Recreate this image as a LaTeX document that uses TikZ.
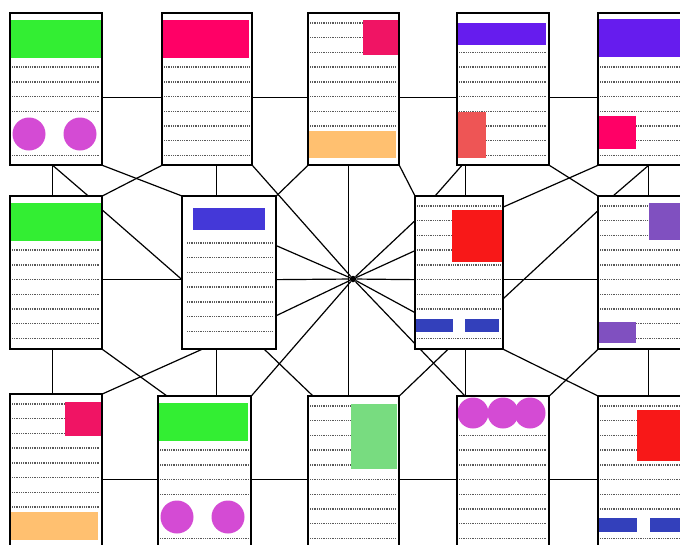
\documentclass[tikz,border=0pt]{standalone}
\usepackage{tikz}
\usetikzlibrary{calc,backgrounds}
\definecolor{BannerGreen}{RGB}{51,238,51}
\definecolor{HotPink}{RGB}{255,0,102}
\definecolor{RosePink}{RGB}{240,20,100}
\definecolor{Apricot}{RGB}{255,192,112}
\definecolor{Violet}{RGB}{102,28,238}
\definecolor{Coral}{RGB}{238,85,85}
\definecolor{Indigo}{RGB}{68,56,216}
\definecolor{Scarlet}{RGB}{248,24,24}
\definecolor{BarBlue}{RGB}{51,64,187}
\definecolor{Lavender}{RGB}{128,80,192}
\definecolor{Orchid}{RGB}{212,75,212}
\definecolor{Mint}{RGB}{120,220,128}
\tikzset{
	docpage/.style={draw=black,fill=white,line width=1.3pt,inner sep=0pt,
		minimum height=152pt,anchor=north west},
	pageframe/.style={draw=black,line width=1.3pt},
	link/.style={draw=black,line width=1.2pt},
	textrow/.style={draw=black!65,line width=1.4pt,dash pattern=on 1pt off 0.8pt},
	hubdot/.style={circle,fill=black,inner sep=2.3pt},
}
% dotted text lines of a page: [top offset]{page}{rows}{left inset}{right inset}
\newcommand{\textrows}[5][10]{%
	\foreach \k in {#3}
		\draw[textrow] ($(#2.north west)+(#4,#1+14.7*\k)$) -- ($(#2.north east)+(-#5,#1+14.7*\k)$);%
}

\begin{document}
\begin{tikzpicture}[x=1pt,y=-1pt]
	\useasboundingbox (0,0) rectangle (680,544);
	\clip (0,0) rectangle (680,544);
	% pages
	\node[docpage,minimum width=91pt,minimum height=151pt] (p1) at (10,13) {};
	\node[docpage,minimum width=89pt,minimum height=151pt] (p2) at (162,13) {};
	\node[docpage,minimum width=90pt,minimum height=151pt] (p3) at (308,13) {};
	\node[docpage,minimum width=91pt,minimum height=151pt] (p4) at (457,13) {};
	\node[docpage,minimum width=92pt,minimum height=151pt] (p5) at (598,13) {};
	\node[docpage,minimum width=91pt] (p6) at (10,196) {};
	\node[docpage,minimum width=93pt] (p7) at (182,196) {};
	\node[docpage,minimum width=87pt] (p8) at (415,196) {};
	\node[docpage,minimum width=92pt] (p9) at (598,196) {};
	\node[docpage,minimum width=91pt] (p10) at (10,394) {};
	\node[docpage,minimum width=92pt] (p11) at (158,396) {};
	\node[docpage,minimum width=90pt] (p12) at (308,396) {};
	\node[docpage,minimum width=91pt] (p13) at (457,396) {};
	\node[docpage,minimum width=92pt] (p14) at (598,396) {};
	\node[hubdot] (hub) at (353,279) {};

	\begin{scope}[on background layer]
		% row links
		\draw[link] ([yshift=-8pt]p1.east) -- ([yshift=-8pt]p2.west);
		\draw[link] ([yshift=-8pt]p2.east) -- ([yshift=-8pt]p3.west);
		\draw[link] ([yshift=-8pt]p3.east) -- ([yshift=-8pt]p4.west);
		\draw[link] ([yshift=-8pt]p4.east) -- ([yshift=-8pt]p5.west);
		\draw[link] ([yshift=-7pt]p6.east) -- ([yshift=-7pt]p7.west);
		\draw[link] ([yshift=-7pt]p7.east) -- (hub) -- ([yshift=-7pt]p8.west);
		\draw[link] ([yshift=-7pt]p8.east) -- ([yshift=-7pt]p9.west);
		\draw[link] ([yshift=-9pt]p10.east) -- ([yshift=-7pt]p11.west);
		\draw[link] ([yshift=-7pt]p11.east) -- ([yshift=-7pt]p12.west);
		\draw[link] ([yshift=-7pt]p12.east) -- ([yshift=-7pt]p13.west);
		\draw[link] ([yshift=-7pt]p13.east) -- ([yshift=-7pt]p14.west);
		% column links
		\draw[link] ([xshift=-3.5pt]p1.south) -- ([xshift=-3.5pt]p6.north);
		\draw[link] ([xshift=9.5pt]p2.south) -- ([xshift=-12.5pt]p7.north);
		\draw[link] ([xshift=-5pt]p3.south) -- ([xshift=-5pt]p12.north);
		\draw[link] ([xshift=-37.5pt]p4.south) -- ([xshift=6.5pt]p8.north);
		\draw[link] ([xshift=4pt]p5.south) -- ([xshift=4pt]p9.north);
		\draw[link] ([xshift=-3.5pt]p6.south) -- ([xshift=-3.5pt]p10.north);
		\draw[link] ([xshift=-12.5pt]p7.south) -- ([xshift=12pt]p11.north);
		\draw[link] ([xshift=6.5pt]p8.south) -- ([xshift=-37.5pt]p13.north);
		\draw[link] ([xshift=4pt]p9.south) -- ([xshift=4pt]p14.north);
		% cross links
		\draw[link] ([xshift=-3.5pt]p1.south) -- ([xshift=-14pt]p6.north east);
		\draw[link] (p1.south east) -- (p7.north west);
		\draw[link] (p2.south west) -- (p6.north east);
		\draw[link] (p2.south east) -- (hub) -- ([xshift=8pt]p13.north west);
		\draw[link] (p3.south west) -- (p7.north east);
		\draw[link] (p3.south east) -- (p8.north west);
		\draw[link] ([xshift=5pt]p4.south west) -- ([xshift=20pt]p8.north west);
		\draw[link] (p4.south east) -- (p9.north west);
		\draw[link] (p5.south west) -- ([yshift=-11pt]p8.north east);
		\draw[link] ([xshift=4pt]p5.south) -- ([xshift=15pt]p9.north west);
		\draw[link] ([yshift=-14pt]p6.north east) -- ([yshift=-7pt]p7.west);
		\draw[link] ([yshift=27pt]p7.east) -- (hub) -- ([yshift=-40pt]p8.west);
		\draw[link] ([yshift=-43pt]p7.east) -- (hub) -- ([yshift=22pt]p8.west);
		\draw[link] (p11.north east) -- (hub) -- ([yshift=52pt]p8.west);
		\draw[link] ([yshift=-26pt]p8.east) -- ([yshift=62pt]p9.west);
		\draw[link] (p6.south east) -- ([xshift=9pt]p11.north west);
		\draw[link] ([xshift=20pt]p7.south west) -- (p10.north east);
		\draw[link] ([xshift=-12pt]p7.south east) -- ([xshift=5pt]p12.north west);
		\draw[link] ([xshift=33pt]p8.south west) -- (p12.north east);
		\draw[link] (p8.south east) -- (p14.north west);
		\draw[link] (p9.south west) -- (p13.north east);
	\end{scope}

	% page contents
	\textrows{p1}{3,4,5,6,9}{2}{3}
	\fill[BannerGreen] ($(p1.north west)+(1,7)$) rectangle ++(90,38);
	\fill[Orchid] ($(p1.north west)+(19,121)$) circle (16.5pt);
	\fill[Orchid] ($(p1.north west)+(70,121)$) circle (16.5pt);

	\textrows{p2}{3,...,9}{2}{3}
	\fill[HotPink] ($(p2.north west)+(1,7)$) rectangle ++(86,38);

	\textrows{p3}{0,...,7}{2}{3}
	\fill[RosePink] ($(p3.north west)+(55,7)$) rectangle ++(35,35);
	\fill[Apricot] ($(p3.north west)+(1,118)$) rectangle ++(87,27);

	\textrows{p4}{2,...,9}{2}{3}
	\fill[Violet] ($(p4.north west)+(1,10)$) rectangle ++(88,22);
	\fill[Coral] ($(p4.north west)+(1,99)$) rectangle ++(28,46);

	\textrows{p5}{3,...,9}{2}{3}
	\fill[Violet] ($(p5.north west)+(1,6)$) rectangle ++(91,38);
	\fill[HotPink] ($(p5.north west)+(1,103)$) rectangle ++(37,33);

	\textrows{p6}{3,...,9}{2}{3}
	\fill[BannerGreen] ($(p6.north west)+(1,7)$) rectangle ++(90,38);

	\textrows[47]{p7}{0,...,6}{5}{4}
	\fill[Indigo] ($(p7.north west)+(11,12)$) rectangle ++(72,22);

	\textrows{p8}{0,1,2,3,4,5,6,7,9}{2}{3}
	\fill[Scarlet] ($(p8.north west)+(37,14)$) rectangle ++(50,52);
	\fill[BarBlue] ($(p8.north west)+(1,123)$) rectangle ++(37,13);
	\fill[BarBlue] ($(p8.north west)+(50,123)$) rectangle ++(34,13);

	\textrows{p9}{0,...,9}{2}{3}
	\fill[Lavender] ($(p9.north west)+(51,7)$) rectangle ++(41,37);
	\fill[Lavender] ($(p9.north west)+(1,126)$) rectangle ++(37,21);

	\textrows{p10}{0,...,7}{2}{3}
	\fill[RosePink] ($(p10.north west)+(55,8)$) rectangle ++(36,34);
	\fill[Apricot] ($(p10.north west)+(1,118)$) rectangle ++(87,28);

	\textrows{p11}{3,4,5,6,9}{2}{3}
	\fill[BannerGreen] ($(p11.north west)+(1,7)$) rectangle ++(89,38);
	\fill[Orchid] ($(p11.north west)+(19,121)$) circle (16.5pt);
	\fill[Orchid] ($(p11.north west)+(70,121)$) circle (16.5pt);

	\textrows{p12}{0,...,9}{2}{3}
	\fill[Mint] ($(p12.north west)+(43,8)$) rectangle ++(46,65);

	\textrows{p13}{2,...,9}{2}{3}
	\fill[Orchid] ($(p13.north west)+(16,17)$) circle (15.5pt);
	\fill[Orchid] ($(p13.north west)+(46,17)$) circle (15.5pt);
	\fill[Orchid] ($(p13.north west)+(73,17)$) circle (15.5pt);

	\textrows{p14}{0,1,2,3,4,5,6,7,9}{2}{3}
	\fill[Scarlet] ($(p14.north west)+(39,14)$) rectangle ++(53,51);
	\fill[BarBlue] ($(p14.north west)+(1,122)$) rectangle ++(38,14);
	\fill[BarBlue] ($(p14.north west)+(52,122)$) rectangle ++(38,14);

	% borders on top of the contents
	\foreach \p in {p1,p2,p3,p4,p5,p6,p7,p8,p9,p10,p11,p12,p13,p14}
		\draw[pageframe] (\p.north west) rectangle (\p.south east);
\end{tikzpicture}
\end{document}
